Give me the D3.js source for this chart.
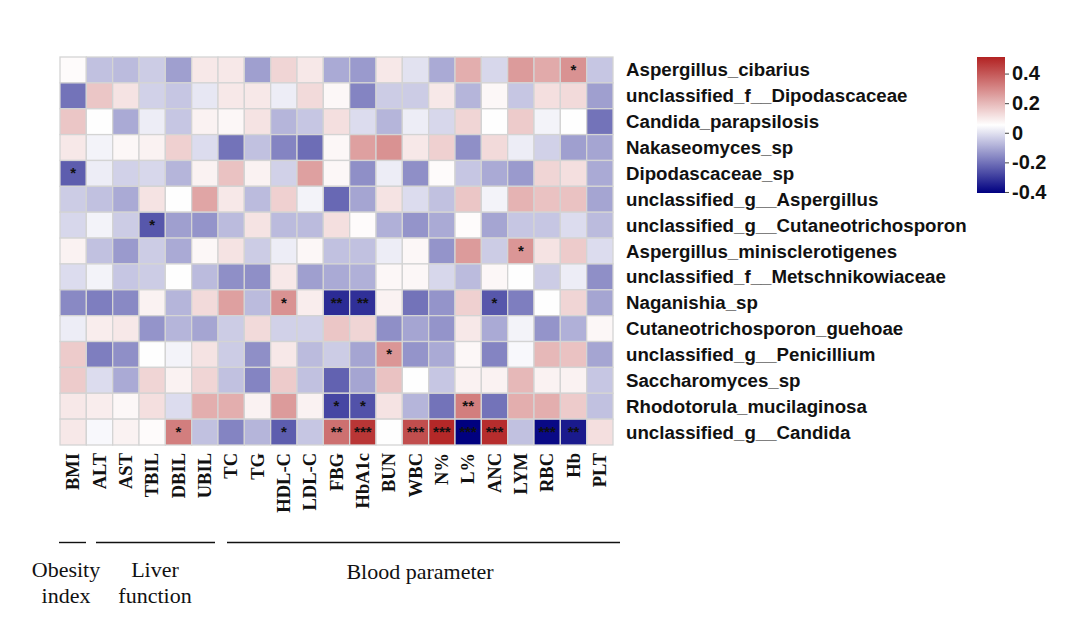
<!DOCTYPE html>
<html><head><meta charset="utf-8">
<script src="https://cdn.jsdelivr.net/npm/d3@7"></script>
<style>body{margin:0;background:#fff}svg{display:block}</style>
</head><body>
<script>
const columns = ["BMI","ALT","AST","TBIL","DBIL","UBIL","TC","TG","HDL-C","LDL-C","FBG","HbA1c","BUN","WBC","N%","L%","ANC","LYM","RBC","Hb","PLT"];
const rows = ["Aspergillus_cibarius","unclassified_f__Dipodascaceae","Candida_parapsilosis","Nakaseomyces_sp","Dipodascaceae_sp","unclassified_g__Aspergillus","unclassified_g__Cutaneotrichosporon","Aspergillus_minisclerotigenes","unclassified_f__Metschnikowiaceae","Naganishia_sp","Cutaneotrichosporon_guehoae","unclassified_g__Penicillium","Saccharomyces_sp","Rhodotorula_mucilaginosa","unclassified_g__Candida"];
const values = [
 [0.06,-0.06,-0.07,-0.04,-0.12,0.10,0.10,-0.12,0.14,0.10,-0.10,-0.13,0.10,0.00,-0.10,0.22,-0.02,0.26,0.23,0.28,-0.05],
 [-0.20,0.17,0.11,-0.03,-0.05,0.01,0.10,0.10,0.02,0.13,0.07,-0.17,-0.04,-0.04,0.10,-0.08,0.07,-0.05,0.12,0.13,-0.12],
 [0.17,0.05,-0.10,0.02,-0.05,0.08,0.07,0.11,-0.08,-0.05,0.12,-0.01,-0.08,0.02,-0.02,0.14,0.05,0.16,0.03,0.05,-0.20],
 [0.10,0.03,0.07,0.08,0.15,-0.01,-0.20,-0.06,-0.17,-0.21,0.07,0.25,0.28,0.10,0.15,-0.15,0.13,0.02,-0.03,-0.12,-0.11],
 [-0.24,0.02,-0.03,-0.02,-0.08,0.08,0.18,0.08,-0.03,0.25,0.07,-0.15,0.02,-0.15,0.06,-0.05,-0.10,-0.13,0.14,0.12,-0.10],
 [-0.04,-0.06,-0.10,0.11,0.05,0.24,0.10,-0.07,0.15,0.03,-0.22,-0.11,0.11,-0.01,-0.06,0.17,0.03,0.21,0.18,0.18,-0.11],
 [-0.02,0.03,-0.04,-0.25,-0.12,-0.14,-0.07,0.11,-0.07,-0.07,0.12,0.06,-0.09,-0.14,-0.10,0.06,-0.11,-0.05,-0.05,-0.01,-0.07],
 [0.08,-0.06,-0.13,-0.04,-0.10,0.07,0.11,-0.04,0.02,0.07,-0.06,-0.06,0.02,0.07,-0.14,0.26,-0.04,0.27,0.11,0.16,-0.01],
 [-0.01,0.03,-0.05,-0.04,0.05,-0.07,-0.15,-0.15,0.10,-0.12,-0.10,-0.09,0.07,0.07,-0.02,-0.07,0.07,0.05,-0.04,0.02,-0.15],
 [-0.16,-0.18,-0.16,0.08,-0.08,0.13,0.25,-0.07,0.28,0.09,-0.33,-0.32,0.08,-0.20,-0.14,0.15,-0.25,-0.18,0.05,0.14,-0.11],
 [0.02,0.09,0.10,-0.14,-0.08,-0.11,-0.04,0.13,-0.03,-0.03,0.17,0.14,-0.15,-0.11,-0.14,0.10,-0.10,0.03,-0.14,-0.09,0.07],
 [0.16,-0.18,-0.15,0.05,0.03,0.11,-0.04,-0.15,0.10,-0.07,-0.04,-0.11,0.27,-0.14,-0.10,0.07,-0.17,0.04,0.20,0.18,-0.11],
 [0.16,-0.01,-0.10,0.14,0.08,0.14,-0.06,-0.17,0.16,-0.06,-0.23,-0.11,0.18,0.05,-0.05,0.08,0.08,0.20,0.08,0.08,-0.05],
 [0.10,0.09,0.07,0.12,-0.01,0.22,0.22,0.08,0.26,0.08,-0.28,-0.26,0.11,-0.08,-0.20,0.32,-0.20,0.22,0.22,0.16,-0.06],
 [0.10,0.04,0.08,0.06,0.32,-0.06,-0.17,-0.08,-0.24,-0.05,0.35,0.47,0.05,0.42,0.50,-0.41,0.49,-0.06,-0.39,-0.36,0.12]
];
const stars = [
 ["","","","","","","","","","","","","","","","","","","","*",""],
 ["","","","","","","","","","","","","","","","","","","","",""],
 ["","","","","","","","","","","","","","","","","","","","",""],
 ["","","","","","","","","","","","","","","","","","","","",""],
 ["*","","","","","","","","","","","","","","","","","","","",""],
 ["","","","","","","","","","","","","","","","","","","","",""],
 ["","","","*","","","","","","","","","","","","","","","","",""],
 ["","","","","","","","","","","","","","","","","","*","","",""],
 ["","","","","","","","","","","","","","","","","","","","",""],
 ["","","","","","","","","*","","**","**","","","","","*","","","",""],
 ["","","","","","","","","","","","","","","","","","","","",""],
 ["","","","","","","","","","","","","*","","","","","","","",""],
 ["","","","","","","","","","","","","","","","","","","","",""],
 ["","","","","","","","","","","*","*","","","","**","","","","",""],
 ["","","","","*","","","","*","","**","***","","***","***","***","***","","***","**",""]
];
const colorTicks = [0.4,0.2,0,-0.2,-0.4];
const groups = [
 {lines:["Obesity","index"], from:"BMI", to:"BMI"},
 {lines:["Liver","function"], from:"ALT", to:"UBIL"},
 {lines:["Blood parameter"], from:"TC", to:"PLT"}
];

const W=1080,H=623;
const svg=d3.select("body").append("svg").attr("width",W).attr("height",H);
const gx0=60,gx1=613,gy0=57,gy1=445;
const x=d3.scaleBand().domain(columns).range([gx0,gx1]).padding(0);
const y=d3.scaleBand().domain(rows).range([gy0,gy1]).padding(0);
const vmin=-0.407,vmax=0.512,vmid=(vmin+vmax)/2;
const color=d3.scaleLinear().domain([vmin,vmid,vmax]).range(["#000080","#ffffff","#B22222"]).interpolate(d3.interpolateRgb);

const cells=[];
rows.forEach((r,i)=>columns.forEach((c,j)=>cells.push({r,c,v:values[i][j],s:stars[i][j]})));
const g=svg.append("g");
g.selectAll("rect").data(cells).join("rect")
 .attr("x",d=>x(d.c)).attr("y",d=>y(d.r))
 .attr("width",x.bandwidth()).attr("height",y.bandwidth())
 .attr("fill",d=>color(d.v)).attr("stroke","#d4d4d4").attr("stroke-width",1.3);
g.selectAll("text").data(cells.filter(d=>d.s)).join("text")
 .attr("x",d=>x(d.c)+x.bandwidth()/2).attr("y",d=>y(d.r)+y.bandwidth()/2+5)
 .attr("text-anchor","middle").attr("font-family","Liberation Sans, Arial, sans-serif")
 .attr("font-size",15).attr("font-weight","bold").attr("fill","#111").text(d=>d.s);

// row labels
svg.append("g").selectAll("text").data(rows).join("text")
 .attr("x",gx1+13).attr("y",d=>y(d)+y.bandwidth()/2)
 .attr("dominant-baseline","central")
 .attr("font-family","Liberation Sans, Arial, sans-serif").attr("font-weight","bold")
 .attr("font-size",18.7).attr("fill","#111").text(d=>d);

// column labels
svg.append("g").selectAll("text").data(columns).join("text")
 .attr("transform",d=>`translate(${x(d)+x.bandwidth()/2+6},${gy1+8}) rotate(-90)`)
 .attr("text-anchor","end")
 .attr("font-family","Liberation Serif, Times New Roman, serif").attr("font-weight","bold")
 .attr("font-size",18.5).attr("fill","#111").text(d=>d);

// colorbar
const cb={x:977,w:28,y0:57,y1:193};
const cy=d3.scaleLinear().domain([vmin,vmax]).range([cb.y1,cb.y0]);
const grad=svg.append("defs").append("linearGradient").attr("id","cbg")
 .attr("x1",0).attr("y1",1).attr("x2",0).attr("y2",0);
d3.range(0,1.0001,0.05).forEach(t=>{
 grad.append("stop").attr("offset",t).attr("stop-color",color(vmin+t*(vmax-vmin)));
});
svg.append("rect").attr("x",cb.x).attr("y",cb.y0).attr("width",cb.w).attr("height",cb.y1-cb.y0).attr("fill","url(#cbg)");
const ax=svg.append("g").attr("transform",`translate(${cb.x+cb.w},0)`)
 .call(d3.axisRight(cy).tickValues(colorTicks).tickSize(4).tickFormat(d=>d===0?"0":String(+d.toFixed(1))));
ax.select(".domain").remove();
ax.selectAll("line").attr("stroke","#444");
ax.selectAll("text").attr("font-family","Liberation Sans, Arial, sans-serif").attr("font-weight","bold")
 .attr("font-size",20).attr("fill","#111").attr("x",7);

// group annotations
const ly=542.5;
const segs=[[59,86],[96,215],[227,620]];
groups.forEach((gr,i)=>{
 svg.append("line").attr("x1",segs[i][0]).attr("x2",segs[i][1]).attr("y1",ly).attr("y2",ly)
  .attr("stroke","#111").attr("stroke-width",1.4);
});
const gtext=[{x:66,y:577},{x:155,y:577},{x:420,y:579}];
groups.forEach((gr,i)=>{
 const t=svg.append("text").attr("x",gtext[i].x).attr("y",gtext[i].y).attr("text-anchor","middle")
  .attr("font-family","Liberation Serif, Times New Roman, serif").attr("font-size",22).attr("fill","#111");
 gr.lines.forEach((l,k)=>t.append("tspan").attr("x",gtext[i].x).attr("dy",k===0?0:26).text(l));
});
</script>
</body></html>
